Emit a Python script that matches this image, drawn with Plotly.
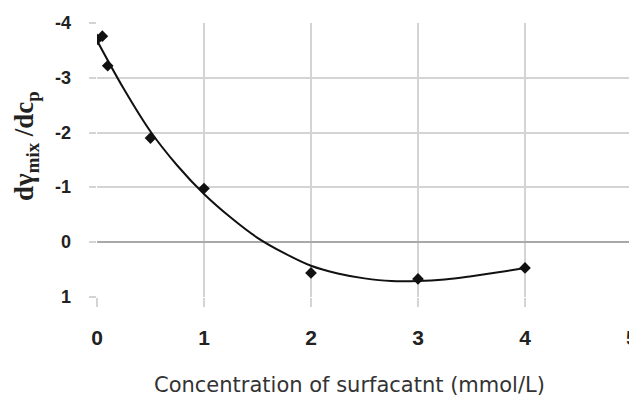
import plotly.graph_objects as go

# measured data points
conc = [0.0, 0.05, 0.1, 0.5, 1.0, 2.0, 3.0, 4.0]
dgamma = [-3.70, -3.76, -3.22, -1.90, -0.98, 0.56, 0.67, 0.47]

# trend curve
curve_x = [0.0, 0.25, 0.5, 0.75, 1.0, 1.25, 1.5, 1.75, 2.0, 2.25, 2.5, 2.75, 3.0, 3.25, 3.5, 3.75, 4.0]
curve_y = [-3.68, -2.80, -2.02, -1.40, -0.88, -0.45, -0.08, 0.20, 0.43, 0.57, 0.66, 0.71, 0.71, 0.68, 0.62, 0.55, 0.47]

x_ticks = [0, 1, 2, 3, 4, 5]
y_ticks = [-4, -3, -2, -1, 0, 1]

# page body adds an 8px offset; plot box in page pixels: x 97..632, y 23..297
OFF = 8
L, T, PW, PH = 97 - OFF, 23 - OFF, 535, 274

fig = go.Figure()
fig.add_trace(go.Scatter(x=curve_x, y=curve_y, mode="lines", line=dict(color="#111111", width=2, shape="spline"),
                         hoverinfo="skip", showlegend=False))
fig.add_trace(go.Scatter(x=conc, y=dgamma, mode="markers",
                         marker=dict(symbol="diamond", size=9, color="#111111"), showlegend=False))

xtickfont = dict(family="Liberation Sans, Arial", size=21, color="#222222")
ytickfont = dict(family="Liberation Sans, Arial", size=18, color="#222222")

annotations = [
    dict(text="<b>dγ<sub>mix</sub> /dc<sub>p</sub></b>", xref="paper", yref="paper",
         x=(26 - 97) / PW, y=(297 - 146) / PH, xanchor="center", yanchor="middle",
         textangle=-90, showarrow=False,
         font=dict(family="Liberation Serif, Times New Roman", size=27, color="#222222")),
    dict(text="Concentration of surfacatnt (mmol/L)", xref="paper", yref="paper",
         x=(349 - 97) / PW, y=-(385 - 297) / PH, xanchor="center", yanchor="middle",
         showarrow=False,
         font=dict(family="DejaVu Sans", size=21, color="#333333")),
    dict(text=f"<b>{x_ticks[-1]}</b>", xref="x", yref="paper", x=x_ticks[-1],
         y=-(337 - 297) / PH, xanchor="center", yanchor="middle", showarrow=False,
         font=xtickfont),
]
# y tick labels placed as text, right-aligned 25px left of the plot
for v in y_ticks:
    annotations.append(dict(text=f"<b>{v}</b>", xref="paper", yref="y", x=(73 - 97) / PW, y=v,
                            xanchor="right", yanchor="middle", showarrow=False, font=ytickfont))

fig.update_layout(
    width=637 - OFF, height=396 - OFF,
    margin=dict(l=L, r=637 - OFF - L - PW, t=T, b=396 - OFF - T - PH, autoexpand=False),
    paper_bgcolor="white", plot_bgcolor="white",
    xaxis=dict(range=[0, 5], tickvals=x_ticks, ticktext=[f"<b>{v}</b>" for v in x_ticks],
               showgrid=True, gridcolor="#d4d4d4", gridwidth=1.5, zeroline=False,
               ticks="outside", ticklen=9, tickcolor="#d4d4d4", tickwidth=1.5, automargin=False,
               ticklabelstandoff=13, tickfont=xtickfont, showline=False),
    yaxis=dict(range=[1, -4], tickvals=y_ticks, showticklabels=False,
               showgrid=True, gridcolor="#d4d4d4", gridwidth=1.5, automargin=False,
               zeroline=True, zerolinecolor="#a8a8a8", zerolinewidth=2,
               ticks="outside", ticklen=7, tickcolor="#d4d4d4", tickwidth=1.5,
               showline=False),
    annotations=annotations,
)
fig.write_html("out.html")
